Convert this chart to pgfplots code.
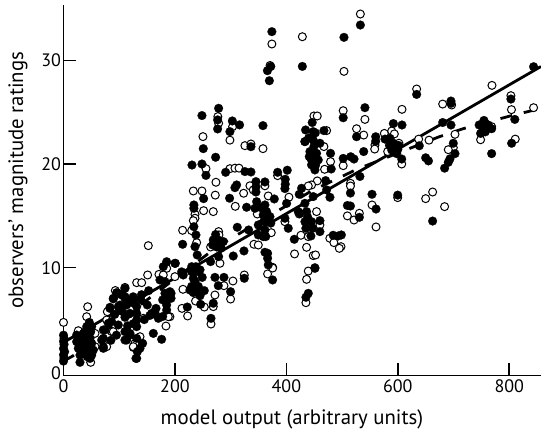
\documentclass[border=0pt]{standalone}
\usepackage{pgfplots}
\pgfplotsset{compat=1.18}
\usepackage{fontspec}
\setmainfont{PT Sans}
\pgfplotstableread{
x y
0 4.73
374 31.57
428.7 32.27
503.4 28.93
370.7 29.5
532.8 34.46
502 25.14
541 24.3
526 23.4
538.8 22.79
559 21.83
558.5 21.44
502 19.84
607.5 25.27
633.8 27.23
680.5 25.78
696.6 25.69
769 27.58
803 26.59
804 25.24
843.7 25.43
575.8 22.95
589 23.18
593.8 22.9
602 22
581.8 21.2
607 20
637.4 22.4
656 22.3
702.6 22.86
699.6 21.57
690.6 21.38
768.4 23.6
748.6 22.34
810.8 22.4
515 18.14
515 17.88
599.8 16.76
662.5 17.3
650 16.66
684 15.89
553.7 16.05
531 15.25
509.5 15
521.4 14.6
560.9 13.93
498 12.03
277 24.57
278.4 23.93
303.5 23.6
250.3 22.64
298.7 22.3
325.6 21.77
336.4 21.93
358 21.48
255.7 19.55
298.7 19.55
307.7 19.6
315 19.6
384.3 18.88
273.6 18.24
334.6 17.9
340.6 17.5
361.5 17.9
233 17.4
248.5 17.4
323.3 17.18
272.4 17
308.3 15.92
347.8 15.18
367.5 16.92
404.6 16.8
251.5 15.5
268.8 15.41
236 15.15
236 14.77
233 14.54
213.8 13.61
230 13.58
239 12.42
278.4 13.48
279 13.16
264 12
372.9 13.38
341.8 12.26
349.6 12.19
280.8 10.43
375.3 10.04
449.4 24.63
455.4 24.63
472.2 23.22
433.3 22.16
467.4 21.68
479.3 20.23
468.6 19.49
455.4 18.37
445.2 17.98
439.3 17.88
454.2 15.41
423.1 15.18
460.2 14.12
397.4 14.44
426.1 13.13
439.3 13
436.3 11.97
414.7 11.33
448.2 11.17
452.4 11.23
478 12.84
485.3 12.42
495 11.87
288 8.27
304.1 8.72
324.5 9.3
366.3 9.4
375.3 9.97
439.3 9.68
436.3 8.88
435.1 6.63
271.8 7.37
299.9 6.98
214.4 7.92
268.8 6.25
237 6.79
252.7 6.21
212.6 6.08
222.8 5.35
264.7 4.57
191 5.28
185.1 9.94
171.3 9.36
179.1 9.3
151 9.3
131.3 8.56
140.3 8.56
152.2 12.13
110.3 8.1
93 7.8
77.5 4.96
143.2 5.12
188.1 5.28
183.9 4.38
116.3 5.5
77.5 2.39
86.4 3.84
128.3 2.71
125.3 2.32
137.3 3.35
200 9.14
43.4 6.24
41.6 5.28
26.6 3.93
56.5 3.67
56.5 2.39
35.6 1.74
48.8 0.88
89.4 3.83
78.7 5.76
125.3 2.39
}\opendata
\pgfplotstableread{
x y
374 32.76
503.4 32.21
428.7 29.41
372 29.4
366 29.0
369.5 28.03
532.8 33.4
541 25.43
502 24.46
526 22.63
560.3 22.63
560.3 22.2
538.8 21.2
515.4 20.7
502 20.54
521.4 20.48
633.8 26.71
695.4 26.07
695.4 25.85
843.7 29.38
803 26.26
810 24.3
680.5 24
695.4 23.76
592 23.9
607.5 23.76
577 22.4
586 22.47
592 22
595 21.5
589 21.35
598 21
607 20.48
638.6 21.76
650 20.6
655 20.3
699.6 22
702.6 21
693.6 20.5
690.6 20.16
684 19.6
746 23.76
754.6 24.2
762.4 23.76
753.4 23.4
768.4 23.4
748.6 22.95
757 23.1
768.4 21
804.3 22
532 18.8
515 17.2
553.7 17.08
599.8 17
662.5 14.5
560.9 15.66
509.5 16
515 15.95
531 14.86
498.7 13.16
278.4 25.37
248.5 24.67
276.6 24.25
276.6 23.38
303 24.15
316 23.77
298.7 23.12
358 23.7
250.9 21.48
336.4 21.67
273 20.65
230.6 19.9
248.5 20
255.7 18.9
291 19.2
325.6 19.27
336.4 19.23
384.3 19.2
401.6 19.4
310.7 17.98
307.7 17.72
345.4 18.3
345.4 17.8
345.4 17.3
361.5 18.27
398 18.53
398 18.05
397.4 17.63
251.5 16.66
298.1 16.7
328.6 15.83
378.3 16.63
400.4 16.2
346.6 16.37
343.6 15.73
361.5 16.05
364.5 15.41
370.5 14.93
358.5 15.1
234 16.05
234 15.73
234 13.96
237.7 13.16
213.8 12.26
236 12.03
240 11.23
311.9 13.9
268.8 12.68
277.8 12.68
286.8 12.52
267.6 12.19
280.8 12.19
332.2 13.64
349.6 14.12
349.6 13.16
361.5 13.64
358.5 13
361.5 11.49
304.7 11.13
323.9 11.62
278.4 11.07
264 10.59
200.7 10.43
237.7 10.1
366.3 11.39
366.3 10.91
367.5 10.27
446.4 24
434.5 23.28
448.2 23.12
467.4 23.22
433.3 22.16
448.2 22.3
460.2 22
442.3 21.2
454.2 21.03
479.3 21.03
441.1 20.71
457.2 20.39
445.2 19.91
451.2 19.43
480.5 19.52
470.4 18.4
427.3 17.66
423.1 17.08
472.2 17.5
478.2 16.79
448.2 16.86
433.3 16.21
436.3 15.41
421.3 15.41
460.2 14.54
445.2 14.44
433.3 14.44
435 13.8
460.2 13.48
444 13.06
414.2 12.74
451.2 10
484 13.13
493 13.06
397.4 14.77
403.4 13.8
424.3 15.25
236 9.94
230 9.62
242 9.62
233 8.98
249 9.07
236 8.66
271.8 9.07
288 9.07
277.8 8.27
324.5 8.98
375.3 8.82
451.2 9.94
439.3 7.53
435.1 7.15
299.9 7.69
227 7.85
233 7.6
239 8
252.7 7.79
268.8 6.57
246.1 6.47
222.2 6.21
264.7 5.12
193 7.53
193 7.05
185.1 10.58
179.1 10.1
200 10.42
173.1 8.82
182.1 8.66
152.8 7.79
110.3 8
95.4 7.6
89.4 7
104.4 7.37
110.3 7.05
83.4 6.18
98.4 6.25
113.3 6.41
138.5 6.95
150.4 6.41
131.3 6.25
131.3 5.6
131.3 4.96
131.3 4.32
182.1 7.53
191 7.69
185.1 6.89
166 6.08
185.1 6.41
158.2 5.6
170.2 5.12
185.1 5.92
161.2 3.67
176.1 3.1
98.4 4.48
86.4 4.8
110.3 5.22
74.5 4
71.5 3.19
71.5 2.39
110.3 3.84
119.3 3.67
113.3 3.03
142 2.71
137.3 2.23
130.1 1.26
132.5 1.9
215 9.3
212 9.6
0 3.5
1 3.2
0 2.9
1 2.6
0 2.2
2 1.9
0 1.6
1 1.3
0 1
46.4 4.73
41.6 4.32
50.6 4.32
38.6 3.83
48.8 3.83
23.6 3.51
29.6 3.35
38.6 3.19
47.6 3.19
23.6 2.87
32.6 2.71
41.6 2.55
50.6 2.71
26.6 2.23
38.6 2.06
47.6 1.9
53.5 2.06
29.6 1.58
42.8 1.42
50.6 1.58
29.6 0.88
47.6 1.26
35.6 2.39
35.6 3.03
35.6 3.67
71.5 4
68.5 3.03
71.5 2.23
80.5 4.64
83.4 6.08
89.4 7.05
98.4 7.53
110.3 7.21
101.4 6.4
119.3 5.6
110.3 3.03
119.3 3.51
131.3 3.19
131.3 1.26
92 5.5
105 5.8
120 6.8
125 7.2
115 4.4
125 4.6
85 3
95 3.5
145 5
125 6.6
140 7.4
155 5.4
165 5.5
178 5.3
178 6.9
230 10.1
245 9.8
230 8.2
242 8.2
245 7.3
236 7.9
273 13.2
275 12
283 11.9
449.5 21.7
445 20.4
452.5 19.9
440 22.5
452 23
367 15
372 14.3
360 14.5
355 15.8
363 13
590 21.7
600 21.4
585 21.8
601 21.8
438 14.9
447 13.8
}\filleddata
\begin{document}
\begin{tikzpicture}
\useasboundingbox (-63.5pt,-57.5pt) rectangle (477.5pt,375.5pt);
\begin{axis}[
  at={(0pt,0pt)}, anchor=south west,
  scale only axis, width=477.5pt, height=370.5pt,
  xmin=0, xmax=857, ymin=-0.39, ymax=35.33,
  axis lines=left, axis line style={-, line width=1.7pt},
  axis on top, clip=false,
  tick align=inside, major tick length=12pt,
  tick style={black, line width=1.5pt},
  xtick={200,400,600,800}, ytick={10,20,30},
  extra x ticks={0}, extra y ticks={0},
  extra x tick style={tick style={draw=none}},
  extra y tick style={tick style={draw=none}},
  tick label style={font=\fontsize{18}{20}\selectfont, /pgf/number format/assume math mode=true},
  xticklabel style={yshift=-0.5pt},
  yticklabel style={xshift=1pt},
  extra y tick style={tick style={draw=none}, yticklabel style={yshift=-2pt}},
  xlabel={model output (arbitrary units)},
  ylabel={observers’ magnitude ratings},
  label style={font=\fontsize{20.8}{22}\selectfont},
  xlabel style={at={(rel axis cs:0.4785,0)}, anchor=center, yshift=-44pt},
  ylabel style={at={(rel axis cs:0,0.527)}, anchor=center, yshift=45.5pt},
]
\addplot[no marks, line width=2.8pt, black] coordinates {(0,2.8) (857,29.4)};
\addplot[no marks, line width=2.8pt, black, dash pattern=on 12pt off 12pt] coordinates {(0,1) (17,1.5) (278,12.1) (445,17.4) (527,19.5) (673,22.6) (717,23.4) (803,24.65) (857,25.36)};
\addplot[only marks, mark=*, mark size=4pt, mark options={fill=white, draw=black, line width=1pt}] table {\opendata};
\addplot[only marks, mark=*, mark size=4.4pt, mark options={fill=black, draw=black, line width=0.2pt}] table {\filleddata};
\end{axis}
\end{tikzpicture}
\end{document}
